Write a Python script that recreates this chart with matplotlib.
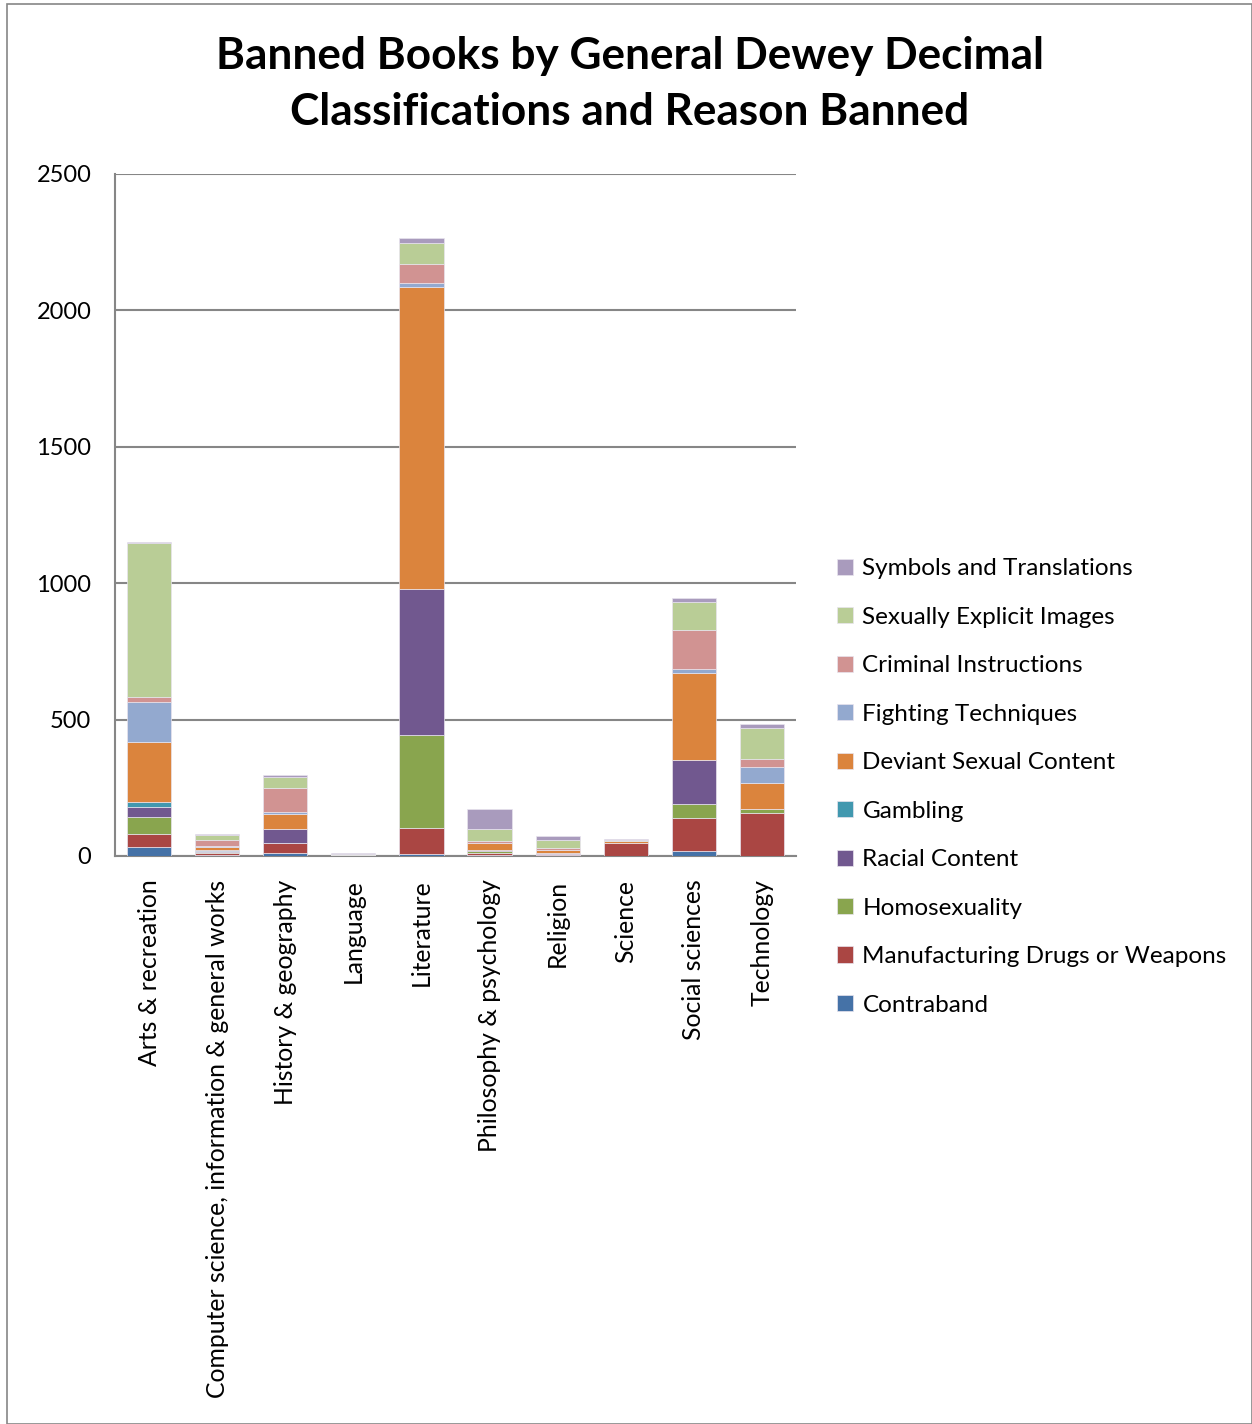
import matplotlib.pyplot as plt
import numpy as np
from matplotlib.patches import Rectangle

categories = ["Arts & recreation", "Computer science, information & general works",
              "History & geography", "Language", "Literature", "Philosophy & psychology",
              "Religion", "Science", "Social sciences", "Technology"]

reasons = ["Contraband", "Manufacturing Drugs or Weapons", "Homosexuality", "Racial Content",
           "Gambling", "Deviant Sexual Content", "Fighting Techniques", "Criminal Instructions",
           "Sexually Explicit Images", "Symbols and Translations"]

contraband    = [32, 5, 10, 1, 7, 4, 3, 1, 20, 1]
manufacturing = [49, 5, 36, 1, 94, 6, 4, 45, 118, 155]
homosexuality = [63, 6, 2, 0, 343, 10, 1, 1, 53, 16]
racial        = [34, 3, 52, 0, 535, 2, 3, 0, 162, 0]
gambling      = [21, 2, 0, 0, 0, 0, 0, 0, 0, 0]
deviant       = [218, 13, 55, 1, 1107, 24, 11, 7, 319, 95]
fighting      = [149, 4, 5, 0, 14, 2, 0, 0, 15, 61]
criminal      = [18, 22, 90, 2, 69, 6, 8, 2, 143, 29]
sexually      = [562, 16, 41, 2, 79, 46, 27, 4, 102, 113]
symbols       = [6, 6, 5, 4, 18, 74, 18, 2, 15, 15]

series = [contraband, manufacturing, homosexuality, racial, gambling,
          deviant, fighting, criminal, sexually, symbols]
colors = ["#4572A7", "#AA4643", "#89A54E", "#71588F", "#4198AF",
          "#DB843D", "#93A9CF", "#D19392", "#B9CD96", "#A99BBD"]

plt.rcParams['font.family'] = ['Lato', 'DejaVu Sans']

fig = plt.figure(figsize=(12.52, 14.24), dpi=100)
ax = fig.add_axes([115/1252, 1-856/1424, (796-115)/1252, (856-174)/1424])

x = np.arange(len(categories))
bottom = np.zeros(len(categories))
handles = []
for vals, c, name in zip(series, colors, reasons):
    b = ax.bar(x, vals, 0.65, bottom=bottom, color=c, edgecolor='#e8e4ee', linewidth=0.5,
               label=name, zorder=3)
    handles.append(b)
    bottom += np.array(vals)

ax.set_ylim(0, 2500)
ax.set_xlim(-0.5, len(categories)-0.5)
ax.set_yticks(range(0, 2501, 500))
ax.yaxis.grid(True, color='#868686', linewidth=1.5, zorder=0)
ax.set_xticks(x)
ax.set_xticklabels(categories, rotation=90, fontsize=17.8)
ax.tick_params(axis='y', labelsize=17, length=0, pad=17)
ax.tick_params(axis='x', length=0, pad=17)
for s in ['top', 'right']:
    ax.spines[s].set_visible(False)
for s in ['left', 'bottom']:
    ax.spines[s].set_color('#868686')
    ax.spines[s].set_linewidth(1.5)

fig.text(630/1252, 1-84/1424, "Banned Books by General Dewey Decimal\nClassifications and Reason Banned",
         ha='center', va='center', fontsize=31.8, fontweight='bold', linespacing=1.5)

fig.legend(handles[::-1], reasons[::-1], loc='center left',
           bbox_to_anchor=(815/1252, 1-787/1424), frameon=False, fontsize=17.5,
           handlelength=0.65, handleheight=0.65, labelspacing=1.13, handletextpad=0.4)

fig.patches.append(Rectangle((7/1252, 0), 1-7/1252, 1-4/1424, transform=fig.transFigure,
                             fill=False, edgecolor='#868686', linewidth=1.2))

fig.savefig("out.png", dpi=100)
